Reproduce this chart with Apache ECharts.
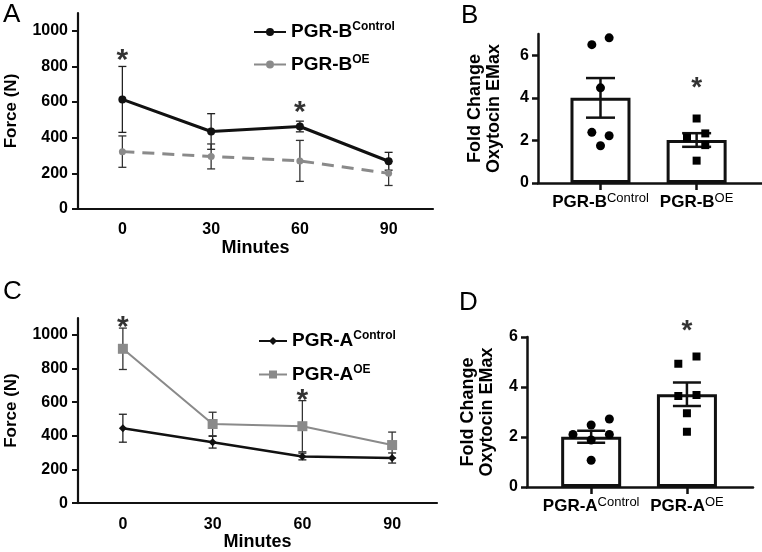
<!DOCTYPE html>
<html>
<head>
<meta charset="utf-8">
<script src="https://cdn.jsdelivr.net/npm/echarts@6/dist/echarts.min.js"></script>
<style>html,body{margin:0;padding:0;background:#fff}#c{width:762px;height:552px}</style>
</head>
<body>
<div id="c"></div>
<script>
// ---------- DATA ----------
const minutes = ['0', '30', '60', '90'];
const forceTicks = [0, 200, 400, 600, 800, 1000];
const foldTicksB = [0, 2, 4, 6];
const foldTicksD = [0, 2, 4, 6];

// Panel A
const aControlMean = [615, 435, 463, 268];
const aControlErr = [185, 100, 30, 50];
const aOEMean = [322, 295, 270, 200];
const aOEErr = [88, 70, 115, 68];
const aStars = [[0, 876], [2, 584]];

// Panel C
const cControlMean = [445, 362, 277, 268];
const cControlErr = [83, 35, 20, 30];
const cOEMean = [917, 470, 457, 345];
const cOEErr = [123, 70, 152, 77];
const cStars = [[0, 1087], [2, 653]];

// Panel B
const bGroups = ['Control', 'OE'];
const bMean = [4.0, 2.02];
const bSem = [0.93, 0.32];
const bControlPts = [[-0.09, 6.5], [0.09, 6.82], [0, 4.47], [-0.09, 2.38], [0.09, 2.22], [0, 1.75]];
const bOEPts = [[1, 3.03], [0.9, 2.13], [1.09, 2.33], [1.09, 1.78], [1, 1.05]];
const bStars = [[1, 4.83]];

// Panel D
const dGroups = ['Control', 'OE'];
const dMean = [2.01, 3.71];
const dSem = [0.24, 0.47];
const dControlPts = [[-0.19, 2.1], [0, 2.48], [0.19, 2.72], [0.19, 2.1], [0, 1.88], [0, 1.07]];
const dOEPts = [[0.91, 4.93], [1.1, 5.22], [0.91, 3.64], [1.1, 3.68], [1, 2.95], [1, 2.21]];
const dStars = [[1, 6.56]];

// ---------- STYLE ----------
const FONT = 'Liberation Sans, Arial, Helvetica, sans-serif';
const BLACK = '#111';
const GRAY = '#8a8a8a';

function errSeries(gridIdx, means, errs, capW, color, lw) {
  return {
    type: 'custom', xAxisIndex: gridIdx, yAxisIndex: gridIdx, z: 3,
    data: means.map((m, i) => [i, m, errs[i]]),
    renderItem: function (params, api) {
      const x = api.value(0), v = api.value(1), e = api.value(2);
      const hi = api.coord([x, v + e]);
      const lo = api.coord([x, v - e]);
      const st = { stroke: color, lineWidth: lw };
      return { type: 'group', children: [
        { type: 'line', shape: { x1: hi[0], y1: hi[1], x2: lo[0], y2: lo[1] }, style: st },
        { type: 'line', shape: { x1: hi[0] - capW / 2, y1: hi[1], x2: hi[0] + capW / 2, y2: hi[1] }, style: st },
        { type: 'line', shape: { x1: lo[0] - capW / 2, y1: lo[1], x2: lo[0] + capW / 2, y2: lo[1] }, style: st }
      ]};
    }
  };
}
function starSeries(gridIdx, pts, size) {
  return {
    type: 'scatter', xAxisIndex: gridIdx, yAxisIndex: gridIdx, clip: false, z: 5,
    data: pts, symbolSize: 1, itemStyle: { color: 'rgba(0,0,0,0)' }, silent: true,
    label: { show: true, position: 'inside', formatter: '*', fontSize: size, fontWeight: 'bold', color: '#000', fontFamily: FONT, offset: [0, Math.round(size * 0.27)] }
  };
}
const legendRich = {
  m: { fontSize: 19, fontWeight: 'bold', fontFamily: FONT, color: '#000', lineHeight: 22 },
  s: { fontSize: 12, fontWeight: 'bold', fontFamily: FONT, color: '#000', verticalAlign: 'top', lineHeight: 16 }
};
const xRich = {
  m: { fontSize: 17, fontWeight: 'bold', fontFamily: FONT, color: '#000', lineHeight: 20 },
  s: { fontSize: 13, fontWeight: 'normal', fontFamily: FONT, color: '#000', verticalAlign: 'top', lineHeight: 13 }
};
function legendFmt(name) { const p = name.split('|'); return '{m|' + p[0] + '}{s|' + p[1] + '}'; }

function forceYAxis(gridIdx) {
  return {
    type: 'value', gridIndex: gridIdx, min: 0, max: 1100, interval: 200,
    name: 'Force (N)', nameLocation: 'middle', nameGap: 58,
    nameTextStyle: { fontSize: 17, fontWeight: 'bold', fontFamily: FONT, color: '#000' },
    axisLine: { show: true, onZero: false, lineStyle: { color: BLACK, width: 2.2 } },
    axisTick: { show: true, length: 6, customValues: forceTicks, lineStyle: { color: BLACK, width: 2 } },
    axisLabel: { customValues: forceTicks, fontSize: 16, fontWeight: 'bold', fontFamily: FONT, color: '#000', margin: 10,
      formatter: v => String(v) },
    splitLine: { show: false }
  };
}
function minutesXAxis(gridIdx) {
  return {
    type: 'category', gridIndex: gridIdx, data: minutes, boundaryGap: true,
    name: 'Minutes', nameLocation: 'middle', nameGap: 29,
    nameTextStyle: { fontSize: 18, fontWeight: 'bold', fontFamily: FONT, color: '#000' },
    axisLine: { show: true, onZero: false, lineStyle: { color: BLACK, width: 2.2 } },
    axisTick: { show: false },
    axisLabel: { fontSize: 16, fontWeight: 'bold', fontFamily: FONT, color: '#000', margin: 13 }
  };
}
function groupXAxis(gridIdx, prefix, groups, min, max) {
  return {
    type: 'value', gridIndex: gridIdx, min: min, max: max,
    axisLine: { show: true, onZero: false, lineStyle: { color: BLACK, width: 2.5 } },
    axisTick: { show: true, length: 7, customValues: [0, 1], lineStyle: { color: BLACK, width: 2.5 } },
    axisLabel: { customValues: [0, 1], margin: 9, rich: xRich,
      formatter: v => '{m|' + prefix + '}{s|' + groups[Math.round(v)] + '}' },
    splitLine: { show: false }
  };
}
function foldYAxis(gridIdx, max, ticks, gap) {
  return {
    type: 'value', gridIndex: gridIdx, min: 0, max: max, interval: 2,
    name: 'Fold Change\nOxytocin EMax', nameLocation: 'middle', nameGap: gap,
    nameTextStyle: { fontSize: 18, fontWeight: 'bold', fontFamily: FONT, color: '#000', lineHeight: 19 },
    axisLine: { show: true, onZero: false, lineStyle: { color: BLACK, width: 2.5 } },
    axisTick: { show: true, length: 6, customValues: ticks, lineStyle: { color: BLACK, width: 2.5 } },
    axisLabel: { customValues: ticks, fontSize: 16, fontWeight: 'bold', fontFamily: FONT, color: '#000', margin: 9 },
    splitLine: { show: false }
  };
}
function barSeries(gridIdx, means) {
  return {
    type: 'bar', xAxisIndex: gridIdx, yAxisIndex: gridIdx, barWidth: 60, z: 2,
    data: means.map((m, i) => [i, m]),
    itemStyle: { color: '#fff', borderColor: BLACK, borderWidth: 3 }
  };
}
function ptsSeries(gridIdx, pts, symbol, size) {
  return {
    type: 'scatter', xAxisIndex: gridIdx, yAxisIndex: gridIdx, z: 4, clip: false,
    data: pts, symbol: symbol, symbolSize: size, itemStyle: { color: '#000', opacity: 1 }
  };
}

const option = {
  animation: false,
  backgroundColor: '#fff',
  textStyle: { fontFamily: FONT },
  grid: [
    { left: 78, top: 13, width: 355, height: 196 },   // A
    { left: 538, top: 34, width: 224, height: 149 },  // B
    { left: 78, top: 318, width: 359, height: 190 },  // C
    { left: 527, top: 337, width: 226, height: 150 }  // D
  ],
  xAxis: [
    minutesXAxis(0),
    groupXAxis(1, 'PGR-B', bGroups, -0.65, 1.68),
    minutesXAxis(2),
    groupXAxis(3, 'PGR-A', dGroups, -0.67, 1.69)
  ],
  yAxis: [
    forceYAxis(0),
    foldYAxis(1, 7, foldTicksB, 34),
    forceYAxis(2),
    foldYAxis(3, 6, foldTicksD, 30)
  ],
  legend: [
    { data: ['PGR-B|Control', 'PGR-B|OE'], orient: 'vertical', left: 248, top: 16, itemGap: 12,
      itemWidth: 32, itemHeight: 10, formatter: legendFmt, textStyle: { rich: legendRich } },
    { data: ['PGR-A|Control', 'PGR-A|OE'], orient: 'vertical', left: 253, top: 325, itemGap: 13,
      itemWidth: 28, itemHeight: 10, formatter: legendFmt, textStyle: { rich: legendRich } }
  ],
  graphic: [
    { type: 'text', left: 3, top: 2, style: { text: 'A', fontSize: 26, fontFamily: FONT, fill: '#000' } },
    { type: 'text', left: 461, top: 3, style: { text: 'B', fontSize: 26, fontFamily: FONT, fill: '#000' } },
    { type: 'text', left: 3, top: 279, style: { text: 'C', fontSize: 26, fontFamily: FONT, fill: '#000' } },
    { type: 'text', left: 459, top: 290, style: { text: 'D', fontSize: 26, fontFamily: FONT, fill: '#000' } }
  ],
  series: [
    // Panel A
    errSeries(0, aControlMean, aControlErr, 8, '#222', 1.3),
    errSeries(0, aOEMean, aOEErr, 8, '#333', 1.3),
    { name: 'PGR-B|Control', type: 'line', xAxisIndex: 0, yAxisIndex: 0, data: aControlMean, z: 4,
      symbol: 'circle', symbolSize: 8, lineStyle: { color: BLACK, width: 3 }, itemStyle: { color: BLACK } },
    { name: 'PGR-B|OE', type: 'line', xAxisIndex: 0, yAxisIndex: 0, data: aOEMean, z: 4,
      symbol: 'circle', symbolSize: 7, lineStyle: { color: GRAY, width: 3, type: [12, 8] }, itemStyle: { color: GRAY } },
    starSeries(0, aStars, 30),
    // Panel B
    barSeries(1, bMean),
    errSeries(1, bMean, bSem, 29, BLACK, 2.5),
    ptsSeries(1, bControlPts, 'circle', 9),
    ptsSeries(1, bOEPts, 'rect', 8),
    starSeries(1, bStars, 28),
    // Panel C
    errSeries(2, cControlMean, cControlErr, 8, '#222', 1.3),
    errSeries(2, cOEMean, cOEErr, 8, '#333', 1.3),
    { name: 'PGR-A|Control', type: 'line', xAxisIndex: 2, yAxisIndex: 2, data: cControlMean, z: 4,
      symbol: 'diamond', symbolSize: 8, lineStyle: { color: BLACK, width: 2.5 }, itemStyle: { color: BLACK } },
    { name: 'PGR-A|OE', type: 'line', xAxisIndex: 2, yAxisIndex: 2, data: cOEMean, z: 4,
      symbol: 'rect', symbolSize: 10, lineStyle: { color: GRAY, width: 2 }, itemStyle: { color: GRAY } },
    starSeries(2, cStars, 30),
    // Panel D
    barSeries(3, dMean),
    errSeries(3, dMean, dSem, 28, BLACK, 2.5),
    ptsSeries(3, dControlPts, 'circle', 9),
    ptsSeries(3, dOEPts, 'rect', 8),
    starSeries(3, dStars, 28)
  ]
};
const chart = echarts.init(document.getElementById('c'), null, { renderer: 'canvas' });
chart.setOption(option);
</script>
</body>
</html>
